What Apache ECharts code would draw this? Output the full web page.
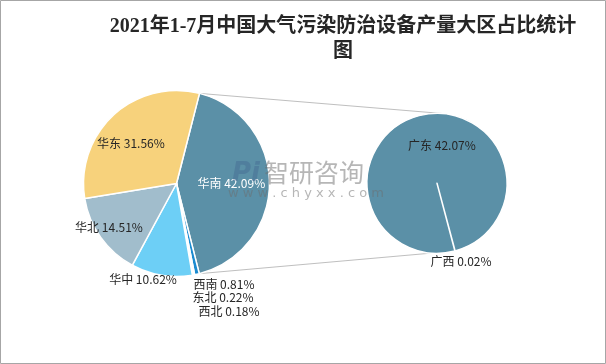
<!DOCTYPE html>
<html><head><meta charset="utf-8">
<script src="https://cdn.jsdelivr.net/npm/echarts@6/dist/echarts.min.js"></script>
<style>html,body{margin:0;padding:0;background:#fff}#c{width:606px;height:364px}</style>
</head><body><div id="c"></div>
<script>
// ---- data ----
const titleText = '2021年1-7月中国大气污染防治设备产量大区占比统计\n图';
const leftCats = ['华南', '西南', '东北', '西北', '华中', '华北', '华东'];
const leftVals = [42.09, 0.81, 0.22, 0.18, 10.62, 14.51, 31.56];
const rightCats = ['广西', '广东'];
const rightVals = [0.02, 42.07];

// ---- style ----
const leftColors = ['#5b90a7', '#1b8bd0', '#3a9fd8', '#2f95d4', '#6dcff6', '#a1bdcc', '#f7d27c'];
const rightColors = ['#5b90a7', '#5b90a7'];
const L = {cx: 176.5, cy: 183.5, r: 93, startDeg: 14.3};
const R = {cx: 437, cy: 183.3, r: 70, startDeg: 165, topDeg: 4, botDeg: 165.5};
// label centres in units of radius, relative to pie centre
const leftLabelPos = [[0.59, 0], [0.51, 1.08], [0.5, 1.23], [0.565, 1.375], [-0.36, 1.03], [-0.726, 0.47], [-0.49, -0.43]];
const rightLabelPos = [[0.343, 1.12], [0.071, -0.547]];
const labelFont = "'Noto Sans CJK SC', 'Noto Sans', sans-serif";

function pt(c, deg) {
  const a = deg * Math.PI / 180;
  return [c.cx + c.r * Math.sin(a), c.cy - c.r * Math.cos(a)];
}
const leftSum = leftVals.reduce((a, b) => a + b, 0);
const otherEndDeg = L.startDeg + 360 * leftVals[0] / leftSum;
const lTop = pt(L, L.startDeg), lBot = pt(L, otherEndDeg);
const rTop = pt(R, R.topDeg), rBot = pt(R, R.botDeg);

function labelLayoutFor(c, pos) {
  return function (p) {
    const o = pos[p.dataIndex];
    return {x: c.cx + o[0] * c.r, y: c.cy + o[1] * c.r, align: 'center', verticalAlign: 'middle'};
  };
}
const fmt = p => p.name + ' ' + Number(p.value).toFixed(2) + '%';

const chart = echarts.init(document.getElementById('c'), null, {renderer: 'canvas'});
chart.setOption({
  backgroundColor: '#fff',
  animation: false,
  title: {
    text: titleText, left: 343, top: 14, textAlign: 'center', padding: 0,
    textStyle: {fontSize: 20, fontWeight: 'bold', color: '#262626', lineHeight: 25,
      fontFamily: "'Liberation Serif', 'Noto Sans CJK SC', serif"}
  },
  series: [
    {
      type: 'pie', center: [L.cx, L.cy], radius: L.r, startAngle: 90 - L.startDeg, clockwise: true,
      avoidLabelOverlap: false,
      itemStyle: {borderColor: '#fff', borderWidth: 1.5},
      label: {show: true, position: 'inside', formatter: fmt, fontSize: 12, fontFamily: labelFont, color: '#262626'},
      labelLine: {show: false},
      labelLayout: labelLayoutFor(L, leftLabelPos),
      emphasis: {disabled: true},
      data: leftCats.map((n, i) => ({name: n, value: leftVals[i], itemStyle: {color: leftColors[i]},
        label: i === 0 ? {color: '#fff'} : undefined}))
    },
    {
      type: 'pie', center: [R.cx, R.cy], radius: R.r, startAngle: 90 - R.startDeg, clockwise: true,
      avoidLabelOverlap: false,
      itemStyle: {borderColor: '#fff', borderWidth: 1.5},
      label: {show: true, position: 'inside', formatter: fmt, fontSize: 12, fontFamily: labelFont, color: '#262626'},
      labelLine: {show: false},
      labelLayout: labelLayoutFor(R, rightLabelPos),
      emphasis: {disabled: true},
      data: rightCats.map((n, i) => ({name: n, value: rightVals[i], itemStyle: {color: rightColors[i]}}))
    }
  ],
  graphic: [
    {type: 'rect', z: 100, silent: true, shape: {x: 0.5, y: 0.5, width: 605, height: 363},
      style: {fill: 'none', stroke: '#a6a6a6', lineWidth: 1}},
    {type: 'line', z: 1, silent: true, shape: {x1: lTop[0], y1: lTop[1], x2: rTop[0], y2: rTop[1]},
      style: {stroke: '#bfbfbf', lineWidth: 1}},
    {type: 'line', z: 1, silent: true, shape: {x1: lBot[0], y1: lBot[1], x2: rBot[0], y2: rBot[1]},
      style: {stroke: '#bfbfbf', lineWidth: 1}},
    {type: 'text', z: 100, silent: true, x: 232, y: 161,
      style: {text: 'Pi', font: "bold italic 26px 'DejaVu Sans', sans-serif", fill: 'rgba(60,95,140,0.35)'}},
    {type: 'text', z: 100, silent: true, x: 264, y: 160,
      style: {text: '智研咨询', font: "25px 'Noto Sans CJK SC', sans-serif", fill: 'rgba(110,110,110,0.5)'}},
    {type: 'text', z: 100, silent: true, x: 228, y: 187,
      style: {text: 'w w w . c h y x x . c o m', font: "13px 'DejaVu Sans', sans-serif", fill: 'rgba(110,110,110,0.5)'}}
  ]
});
</script></body></html>
